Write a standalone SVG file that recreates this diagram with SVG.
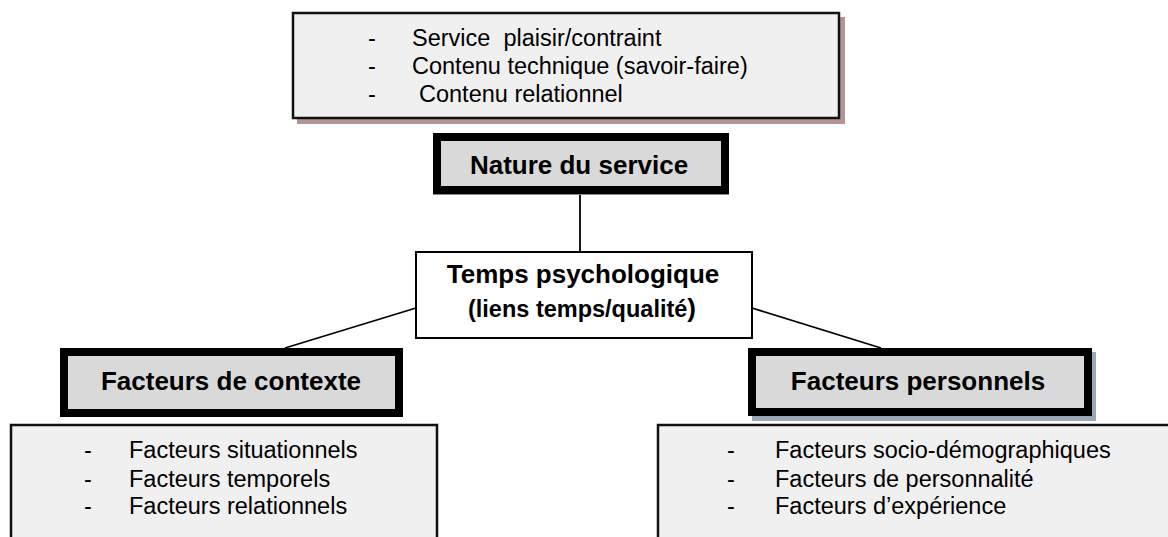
<svg xmlns="http://www.w3.org/2000/svg" width="1168" height="537" viewBox="0 0 1168 537">
  <style>
    .item { font-family: "Liberation Sans", Arial, sans-serif; font-size: 23.5px; fill: #000; }
    .head { font-family: "Liberation Sans", Arial, sans-serif; font-size: 26px; font-weight: bold; fill: #000; text-anchor: middle; }
    .sub { font-family: "Liberation Sans", Arial, sans-serif; font-size: 23.5px; font-weight: bold; fill: #000; text-anchor: middle; }
    .listbox { fill: #f0f0f0; stroke: #111; stroke-width: 2.5; }
    .keybox { fill: #d9d9d9; stroke: #000; stroke-width: 8; }
    .link { stroke: #000; stroke-width: 1.8; fill: none; }
  </style>

  <!-- connectors -->
  <g id="connectors">
    <line class="link" x1="580" y1="194" x2="580" y2="252"/>
    <line class="link" x1="416" y1="308" x2="285" y2="348"/>
    <line class="link" x1="752" y1="308" x2="881" y2="348"/>
  </g>

  <!-- service content list -->
  <g id="service-content">
    <rect x="297" y="17" width="548" height="107" fill="#b69494"/>
    <rect class="listbox" x="293" y="13" width="546" height="105" stroke-width="3"/>
    <text class="item" x="368" y="46">-</text>
    <text class="item" x="412" y="46" xml:space="preserve">Service  plaisir/contraint</text>
    <text class="item" x="368" y="74">-</text>
    <text class="item" x="412" y="74">Contenu technique (savoir-faire)</text>
    <text class="item" x="368" y="102">-</text>
    <text class="item" x="419" y="102">Contenu relationnel</text>
  </g>

  <!-- nature of the service -->
  <g id="nature-service">
    <rect x="433" y="193" width="296" height="2" fill="#8a8a8a"/>
    <rect class="keybox" x="437" y="137" width="288" height="53"/>
    <text class="head" x="579" y="174">Nature du service</text>
  </g>

  <!-- psychological time -->
  <g id="temps-psychologique">
    <rect x="416" y="252" width="336" height="86" fill="#fff" stroke="#000" stroke-width="2"/>
    <text class="head" x="583" y="283">Temps psychologique</text>
    <text class="sub" x="582" y="317">(liens temps/qualité<tspan font-size="26">)</tspan></text>
  </g>

  <!-- context factors -->
  <g id="facteurs-contexte">
    <rect class="keybox" x="64" y="352" width="335" height="61"/>
    <text class="head" x="231" y="390">Facteurs de contexte</text>
  </g>

  <!-- personal factors -->
  <g id="facteurs-personnels">
    <rect x="752" y="352" width="344" height="69" fill="#9ba6b5"/>
    <rect class="keybox" x="752" y="352" width="336" height="60"/>
    <text class="head" x="918" y="390">Facteurs personnels</text>
  </g>

  <!-- context factor list -->
  <g id="liste-contexte">
    <rect class="listbox" x="11" y="425" width="426" height="120"/>
    <text class="item" x="84" y="458">-</text>
    <text class="item" x="129" y="458">Facteurs situationnels</text>
    <text class="item" x="84" y="487">-</text>
    <text class="item" x="129" y="487">Facteurs temporels</text>
    <text class="item" x="84" y="514">-</text>
    <text class="item" x="129" y="514">Facteurs relationnels</text>
  </g>

  <!-- personal factor list -->
  <g id="liste-personnels">
    <rect class="listbox" x="658" y="425" width="520" height="120"/>
    <text class="item" x="727" y="458">-</text>
    <text class="item" x="775" y="458">Facteurs socio-démographiques</text>
    <text class="item" x="727" y="487">-</text>
    <text class="item" x="775" y="487">Facteurs de personnalité</text>
    <text class="item" x="727" y="514">-</text>
    <text class="item" x="775" y="514">Facteurs d’expérience</text>
  </g>
</svg>
